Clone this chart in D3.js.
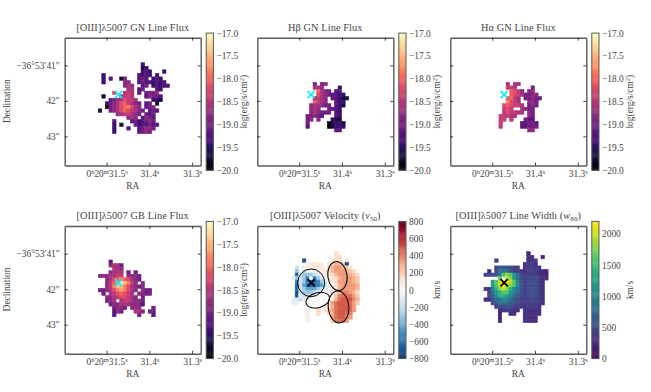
<!DOCTYPE html>
<html>
<head>
<meta charset="utf-8">
<script src="https://cdn.jsdelivr.net/npm/d3@7"></script>
<style>
    html, body { margin: 0; padding: 0; background: #fff; }
    text { font-family: "Liberation Serif", serif; fill: #444; }
</style>
</head>
<body>
<svg id="chart" width="651" height="392"></svg>
<script>
// pixel maps, one char per spaxel, '.' = no data
const oiiiGnRows = [
    "............2.......",
    "............12......",
    "............232...2.",
    ".2.........3232.2...",
    ".2.3..14...343.232..",
    ".2.....55..34332323.",
    ".......565..34.23233",
    "........66.34...32..",
    "....8..676.3.4445...",
    ".1....6776...35443..",
    "...34568776....221..",
    "..2456897654.34.1...",
    "..045689a865.345....",
    "1..4568987654.343...",
    ".....5677654.434....",
    "........565.3543....",
    "....3....3423454....",
    "....2.1...4233433...",
    "....2...3..34554....",
    "....2......3454....."
];
const hbetaGnRows = [
    "..4.45......",
    "..665....2..",
    "...9654.33..",
    "...86543322.",
    "..5765.33211",
    "..9765..322.",
    ".566544.321.",
    ".565..4332..",
    ".565444.32..",
    "44543...32..",
    "45.5...211..",
    "4.....01221.",
    "3.....01222.",
    "........33.."
];
const halphaGnRows = [
    "..6.66......",
    "..776....4..",
    "...9875.55..",
    "...98764455.",
    "..8976.44544",
    "..a876..554.",
    ".898776.454.",
    ".787..6544..",
    ".787766.54..",
    "77766...54..",
    "77.7...433..",
    "7.....33443.",
    "7.....33444.",
    "........55.."
];
const oiiiGbRows = [
    "...3............",
    "...5664.........",
    "....665.........",
    "...5666.4.4.....",
    "5556677.5554....",
    "..5689a98654....",
    "..579bdca75.5...",
    "..57acca86545...",
    "44568aba865.544.",
    ".4.6789876.5544.",
    "..556788765.4...",
    "..456.6776554...",
    "...4556665553...",
    "....4554.555...4",
    "....354...665.44",
    "....3......4...3"
];
const velocityRows = [
    "............3......",
    "............33.....",
    "...A.......223.2...",
    "....12221.24554A...",
    ".F.G11222.3566542..",
    ".E.FG0011235666543.",
    ".BGEEEFG01235666543",
    "GEFEC0CEG0123566654",
    ".CFECBBCEG123666654",
    ".BFDCBBCDF012566665",
    ".BFEDDDEFG012566665",
    ".AFEEEFGG0013577653",
    ".AGFFGG000014788864",
    "GGFG000000015899975",
    "GG.0000001268999864",
    ".....0.01135899986.",
    "....0..3.346899986.",
    "....1..3..3589987..",
    "....1......689976..",
    "....1......47886..."
];
const widthRows = [
    "............1.....",
    "............22..1.",
    "...3........223...",
    "...........2332...",
    "...3555433.23332..",
    ".2.466643322333221",
    "34456aba8643333221",
    "....a.cb8643444322",
    "..8acddca75344432.",
    "..8acdcba75344432.",
    "3279bcb9765345432.",
    ".3689aa8764344432.",
    ".4579987654344432.",
    "22566776543334432.",
    "..456665543333332.",
    "...3444433323332..",
    "....223322.22222..",
    "....1..22..22222..",
    "....1......2222...",
    "....1......2222..."
];

// what each char stands for
const fluxKey = "0123456789abcd";
const fluxLevels = [-20, -19.7, -19.4, -19.2, -19, -18.8, -18.6, -18.4, -18.2, -18, -17.8, -17.6, -17.4, -17.2];
const velocityKey = "ABCDEFG0123456789";
const velocityLevels = [-700, -640, -540, -420, -300, -180, -80, 0, 50, 100, 160, 220, 280, 340, 400, 450, 500];
const widthKey = "0123456789abcd";
const widthLevels = [150, 200, 300, 400, 500, 600, 800, 1000, 1200, 1400, 1600, 1800, 2000, 2200];

// corner of each map (RA seconds, Dec arcsec past -36:53:00)
const mapRa = [31.5196, 31.4843, 31.4843, 31.5196, 31.5178, 31.5194];
const mapDec = [40.924, 41.476, 41.476, 41.177, 40.944, 40.944];
const spaxelRa = 0.00834;
const spaxelDec = 0.1;

// AGN position
const agnRa = 31.472;
const agnDec = 41.82;

// outflow regions on the velocity map
const regionRa = [31.472, 31.4565, 31.4105, 31.408];
const regionDec = [41.82, 42.31, 41.63, 42.5];
const regionA = [0.38, 0.34, 0.27, 0.29];
const regionB = [0.39, 0.21, 0.41, 0.45];
const regionAngle = [0, -15, -8, -5];

const raTicks = [31.5, 31.4, 31.3];
const decTicks = [41, 42, 43];
const fluxTicks = [-20, -19.5, -19, -18.5, -18, -17.5, -17];
const velocityTicks = [-800, -600, -400, -200, 0, 200, 400, 600, 800];
const widthTicks = [0, 500, 1000, 1500, 2000];

const panelWidth = 136;
const panelHeight = 127.8;
const panelLeft = [64.7, 257.3, 450.3, 64.7, 257.3, 450.3];
const panelTop = [37.7, 37.7, 37.7, 226, 226, 226];

const fluxScale = d3.scaleSequential(d3.interpolateMagma).domain([-20, -17]);
// straight segments between the brewer stops, same as the reversed RdBu map
const rdbuStops = d3.schemeRdBu[11].slice().reverse();
const velocityScale = d3.scaleSequential(d3.piecewise(d3.interpolateRgb, rdbuStops)).domain([-800, 800]);
const widthScale = d3.scaleSequential(d3.interpolateViridis).domain([0, 2200]);

const panels = [
    { title: ["[OIII]λ5007 GN Line Flux"], rows: oiiiGnRows, key: fluxKey, levels: fluxLevels, color: fluxScale, ticks: fluxTicks, fmt: d3.format(".1f"), cbLabel: "flux", marker: "#19eef2" },
    { title: ["Hβ GN Line Flux"], rows: hbetaGnRows, key: fluxKey, levels: fluxLevels, color: fluxScale, ticks: fluxTicks, fmt: d3.format(".1f"), cbLabel: "flux", marker: "#19eef2" },
    { title: ["Hα GN Line Flux"], rows: halphaGnRows, key: fluxKey, levels: fluxLevels, color: fluxScale, ticks: fluxTicks, fmt: d3.format(".1f"), cbLabel: "flux", marker: "#19eef2" },
    { title: ["[OIII]λ5007 GB Line Flux"], rows: oiiiGbRows, key: fluxKey, levels: fluxLevels, color: fluxScale, ticks: fluxTicks, fmt: d3.format(".1f"), cbLabel: "flux", marker: "#19eef2" },
    { title: ["[OIII]λ5007 Velocity (", "v", "50", ")"], rows: velocityRows, key: velocityKey, levels: velocityLevels, color: velocityScale, ticks: velocityTicks, fmt: d3.format("d"), cbLabel: "km/s", marker: "#000", regions: true },
    { title: ["[OIII]λ5007 Line Width (", "w", "80", ")"], rows: widthRows, key: widthKey, levels: widthLevels, color: widthScale, ticks: widthTicks, fmt: d3.format("d"), cbLabel: "km/s", marker: "#000" }
];

const svg = d3.select("#chart");
const spineColor = "#5a5a5a";
const tickFont = 9.4;

const addRaLabel = (sel) => {
    // 0h20m31.5s with raised units, only the first tick carries the full form
    sel.attr("dy", 0).attr("y", 11).each(function (d) {
        const t = d3.select(this).text("");
        const parts = d === raTicks[0]
            ? [["0", "h"], ["20", "m"], [d3.format(".1f")(d), "s"]]
            : [[d3.format(".1f")(d), "s"]];
        parts.forEach((p, k) => {
            t.append("tspan").attr("dy", k === 0 ? 0 : 3).text(p[0]);
            t.append("tspan").attr("dy", -3).attr("font-size", 6.5).text(p[1]);
        });
    });
};

const addDecLabel = (sel) => {
    sel.text(d => d === decTicks[0] ? `\u221236°53\u2032${d}\u2033` : `${d}\u2033`);
};

panels.forEach((p, i) => {
    const left = panelLeft[i];
    const top = panelTop[i];
    const x = d3.scaleLinear().domain([31.598, 31.280]).range([left, left + panelWidth]);
    const y = d3.scaleLinear().domain([40.22, 43.82]).range([top, top + panelHeight]);

    // spaxels
    const cells = [];
    p.rows.forEach((row, r) => {
        row.split("").forEach((ch, c) => {
            if (ch !== ".") cells.push({ r, c, value: p.levels[p.key.indexOf(ch)] });
        });
    });

    const g = svg.append("g");
    g.selectAll("rect")
        .data(cells)
        .join("rect")
        .attr("x", d => x(mapRa[i] - d.c * spaxelRa))
        .attr("y", d => y(mapDec[i] + d.r * spaxelDec))
        .attr("width", d => x(mapRa[i] - (d.c + 1) * spaxelRa) - x(mapRa[i] - d.c * spaxelRa))
        .attr("height", d => y(mapDec[i] + (d.r + 1) * spaxelDec) - y(mapDec[i] + d.r * spaxelDec))
        .attr("fill", d => p.color(d.value))
        .attr("stroke", d => p.color(d.value))
        .attr("stroke-width", 0.5);

    if (p.regions) {
        g.selectAll("ellipse")
            .data(regionRa)
            .join("ellipse")
            .attr("cx", 0)
            .attr("cy", 0)
            .attr("rx", (d, k) => y(40.22 + regionA[k]) - y(40.22))
            .attr("ry", (d, k) => y(40.22 + regionB[k]) - y(40.22))
            .attr("transform", (d, k) => `translate(${x(d)},${y(regionDec[k])})rotate(${regionAngle[k]})`)
            .attr("fill", "none")
            .attr("stroke", "#000")
            .attr("stroke-width", 1);
    }

    // AGN cross
    g.append("path")
        .attr("d", d3.symbol().type(d3.symbolX).size(36)())
        .attr("transform", `translate(${x(agnRa)},${y(agnDec)})`)
        .attr("fill", "none")
        .attr("stroke", p.marker)
        .attr("stroke-width", 1.9);

    // frame and ticks, all pointing in
    const axisStyle = (a) => {
        a.select(".domain").attr("stroke", spineColor).attr("stroke-width", 1.4);
        a.selectAll(".tick line").attr("stroke", "#111").attr("stroke-width", 0.8);
        a.selectAll(".tick text").attr("font-size", tickFont).attr("font-family", "Liberation Serif").attr("fill", "#444");
    };

    svg.append("g")
        .attr("transform", `translate(0,${top + panelHeight})`)
        .call(d3.axisBottom(x).tickValues(raTicks).tickSizeInner(-3).tickSizeOuter(0).tickPadding(4))
        .call(axisStyle)
        .call(a => a.selectAll(".tick text").call(addRaLabel));

    svg.append("g")
        .attr("transform", `translate(0,${top})`)
        .call(d3.axisTop(x).tickValues(raTicks).tickSizeInner(-3).tickSizeOuter(0).tickFormat(""))
        .call(axisStyle);

    svg.append("g")
        .attr("transform", `translate(${left},0)`)
        .call(d3.axisLeft(y).tickValues(decTicks).tickSizeInner(-3).tickSizeOuter(0).tickPadding(5))
        .call(axisStyle)
        .call(a => a.selectAll(".tick text").call(i % 3 === 0 ? addDecLabel : (s => s.remove())));

    svg.append("g")
        .attr("transform", `translate(${left + panelWidth},0)`)
        .call(d3.axisRight(y).tickValues(decTicks).tickSizeInner(-3).tickSizeOuter(0).tickFormat(""))
        .call(axisStyle);

    // title
    const title = svg.append("text")
        .attr("x", left + panelWidth / 2)
        .attr("y", top - 7)
        .attr("text-anchor", "middle")
        .attr("font-size", 10.3)
        .attr("letter-spacing", 0.1)
        .text(p.title[0]);
    if (p.title.length > 1) {
        title.append("tspan").attr("font-style", "italic").text(p.title[1]);
        title.append("tspan").attr("dy", 2).attr("font-size", 7).text(p.title[2]);
        title.append("tspan").attr("dy", -2).text(p.title[3]);
    }

    svg.append("text")
        .attr("x", left + panelWidth / 2)
        .attr("y", top + panelHeight + 23)
        .attr("text-anchor", "middle")
        .attr("font-size", 9.4)
        .text("RA");

    if (i % 3 === 0) {
        svg.append("text")
            .attr("transform", `translate(10,${top + 63.5})rotate(-90)`)
            .attr("text-anchor", "middle")
            .attr("font-size", 9.4)
            .text("Declination");
    }

    // colorbar
    const cbX = left + 141.5;
    const cbTop = top - 4.6;
    const cbBottom = top + panelHeight + 4.8;
    const [lo, hi] = p.color.domain();
    const cbY = d3.scaleLinear().domain([lo, hi]).range([cbBottom, cbTop]);
    const steps = d3.range(0, 128);
    svg.append("g")
        .selectAll("rect")
        .data(steps)
        .join("rect")
        .attr("x", cbX)
        .attr("width", 7.2)
        .attr("y", d => cbY(lo + (hi - lo) * (d + 1) / 128))
        .attr("height", d => cbY(lo + (hi - lo) * d / 128) - cbY(lo + (hi - lo) * (d + 1) / 128) + 0.4)
        .attr("fill", d => p.color(lo + (hi - lo) * (d + 0.5) / 128));
    svg.append("rect")
        .attr("x", cbX)
        .attr("y", cbTop)
        .attr("width", 7.2)
        .attr("height", cbBottom - cbTop)
        .attr("fill", "none")
        .attr("stroke", spineColor)
        .attr("stroke-width", 1);

    const cbAxis = svg.append("g")
        .attr("transform", `translate(${cbX + 7.2},0)`)
        .call(d3.axisRight(cbY).tickValues(p.ticks).tickSize(0).tickPadding(3).tickFormat(p.fmt));
    cbAxis.select(".domain").remove();
    cbAxis.selectAll(".tick text").attr("font-size", tickFont).attr("font-family", "Liberation Serif").attr("fill", "#444");

    const cbText = svg.append("text")
        .attr("transform", `translate(${left + 182.5},${top + 64})rotate(-90)`)
        .attr("text-anchor", "middle")
        .attr("font-size", 9.4);
    if (p.cbLabel === "flux") {
        cbText.text("log(erg/s/cm");
        cbText.append("tspan").attr("dy", -3).attr("font-size", 6.5).text("2");
        cbText.append("tspan").attr("dy", 3).text(")");
    } else {
        cbText.text(p.cbLabel);
    }
});
</script>
</body>
</html>
